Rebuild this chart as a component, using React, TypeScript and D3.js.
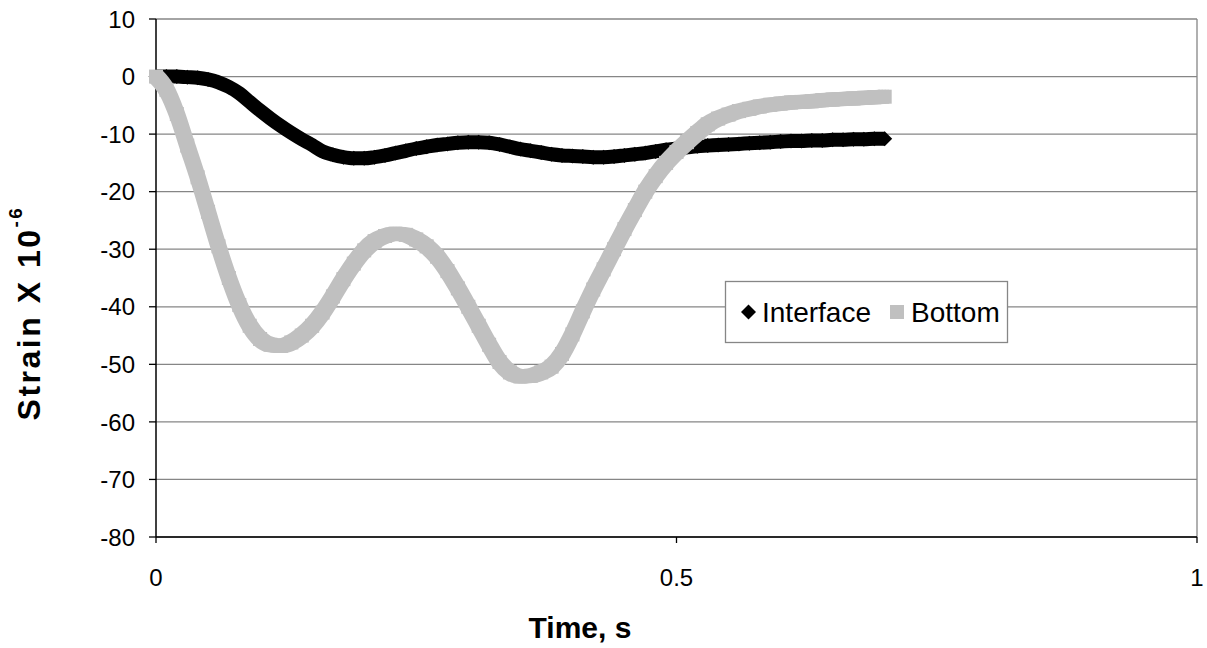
import React from "react";
import * as d3 from "d3";

const TIME_S = [
  0, 0.01, 0.02, 0.03, 0.04, 0.05, 0.06, 0.07, 0.08, 0.09,
  0.1, 0.11, 0.12, 0.13, 0.14, 0.15, 0.16, 0.17, 0.18, 0.19,
  0.2, 0.21, 0.22, 0.23, 0.24, 0.25, 0.26, 0.27, 0.28, 0.29,
  0.3, 0.31, 0.32, 0.33, 0.34, 0.35, 0.36, 0.37, 0.38, 0.39,
  0.4, 0.41, 0.42, 0.43, 0.44, 0.45, 0.46, 0.47, 0.48, 0.49,
  0.5, 0.51, 0.52, 0.53, 0.54, 0.55, 0.56, 0.57, 0.58, 0.59,
  0.6, 0.61, 0.62, 0.63, 0.64, 0.65, 0.66, 0.67, 0.68, 0.69,
  0.7,
];

const INTERFACE = [
  0, 0, 0, -0.1, -0.2, -0.5, -1.0, -1.8, -2.9, -4.4,
  -5.9, -7.3, -8.6, -9.8, -10.9, -11.9, -13.0, -13.6, -14.0, -14.2,
  -14.2, -14.0, -13.7, -13.3, -12.9, -12.5, -12.2, -11.9, -11.7, -11.5,
  -11.4, -11.4, -11.5, -11.8, -12.2, -12.6, -12.9, -13.2, -13.5, -13.7,
  -13.8, -13.9, -14.0, -14.0, -13.9, -13.7, -13.5, -13.3, -13.0, -12.7,
  -12.5, -12.3, -12.1, -12.0, -11.9, -11.8, -11.7, -11.6, -11.5, -11.4,
  -11.3, -11.2, -11.2, -11.1, -11.1, -11.0, -11.0, -10.9, -10.9, -10.8,
  -10.8,
];

const BOTTOM = [
  0, -2.3, -6.5, -12.0, -17.5, -23.5, -29.5, -35.0, -39.7, -43.3,
  -45.6, -46.6, -46.8, -46.2, -45.0, -43.3, -41.0, -38.2, -35.2, -32.5,
  -30.2, -28.6, -27.7, -27.3, -27.5, -28.3, -29.5, -31.3, -33.8, -36.8,
  -40.0, -43.3, -46.6, -49.6, -51.4, -52.1, -52.0, -51.4, -50.4, -48.2,
  -44.8, -40.8, -37.0, -33.5, -30.0, -26.5, -23.2, -20.0, -17.3, -15.0,
  -13.1, -11.4, -9.8, -8.3, -7.3, -6.6, -6.0, -5.6, -5.2, -4.9,
  -4.7, -4.5, -4.4, -4.3, -4.1, -4.0, -3.9, -3.8, -3.7, -3.6,
  -3.5,
];

const Y_TICKS = [10, 0, -10, -20, -30, -40, -50, -60, -70, -80];
const X_TICKS = [0, 0.5, 1];
const X_TICK_LABELS = ["0", "0.5", "1"];
const SERIES_NAMES = ["Interface", "Bottom"];
const X_TITLE = "Time, s";
const Y_TITLE = "Strain X 10";
const Y_TITLE_SUP = "-6";

const W = 1207;
const H = 648;
const FONT = "Arial, 'Liberation Sans', Helvetica, sans-serif";
const GRAY = "#c0c0c0";
const GRID = "#868686";

export default function App() {
  const x = d3.scaleLinear().domain([0, 1]).range([156, 1197]);
  const y = d3.scaleLinear().domain([-80, 10]).range([537, 19]);

  const line = d3
    .line<number>()
    .x((_, i) => x(TIME_S[i]))
    .y((d) => y(d))
    .curve(d3.curveMonotoneX);

  const interfacePath = line(INTERFACE) || "";
  const bottomPath = line(BOTTOM) || "";

  const penOffsets = [-4.5, -1.5, 1.5, 4.5];
  const diamond = (cx: number, cy: number, r: number) =>
    `M${cx},${cy - r}L${cx + r},${cy}L${cx},${cy + r}L${cx - r},${cy}Z`;

  const [x0, x1] = x.range();
  const [yb, yt] = y.range();

  return (
    <svg
      width={W}
      height={H}
      viewBox={`0 0 ${W} ${H}`}
      style={{ position: "absolute", left: 0, top: 0, display: "block", background: "#fff" }}
      fontFamily={FONT}
    >
      <rect x={0} y={0} width={W} height={H} fill="#fff" />
      {Y_TICKS.map((t) => (
        <line key={"g" + t} x1={x0} x2={x1} y1={y(t)} y2={y(t)} stroke={GRID} strokeWidth={1.3} />
      ))}
      <line x1={x1} x2={x1} y1={yt} y2={yb} stroke={GRID} strokeWidth={1.3} />
      <line x1={x0} x2={x0} y1={yt} y2={yb} stroke="#000" strokeWidth={1.5} />
      <line x1={x0} x2={x1} y1={yb} y2={yb} stroke="#000" strokeWidth={1.5} />
      {Y_TICKS.map((t) => (
        <line key={"yt" + t} x1={x0 - 7} x2={x0} y1={y(t)} y2={y(t)} stroke="#000" strokeWidth={1.3} />
      ))}
      {X_TICKS.map((t) => (
        <line key={"xt" + t} x1={x(t)} x2={x(t)} y1={yb} y2={yb + 6} stroke="#000" strokeWidth={1.3} />
      ))}
      {Y_TICKS.map((t) => (
        <text key={"yl" + t} x={135} y={y(t)} dy="0.36em" textAnchor="end" fontSize={24} fill="#000">
          {t}
        </text>
      ))}
      {X_TICKS.map((t, i) => (
        <text key={"xl" + t} x={x(t)} y={586} textAnchor="middle" fontSize={24} fill="#000">
          {X_TICK_LABELS[i]}
        </text>
      ))}

      <path d={interfacePath} fill="none" stroke="#000" strokeWidth={14} strokeLinejoin="round" />
      {INTERFACE.map((v, i) => (
        <path key={"d" + i} d={diamond(x(TIME_S[i]), y(v), 7.5)} fill="#000" />
      ))}

      <g>
        {penOffsets.map((dx) =>
          penOffsets.map((dy) => (
            <path
              key={`p${dx}_${dy}`}
              d={bottomPath}
              transform={`translate(${dx},${dy})`}
              fill="none"
              stroke={GRAY}
              strokeWidth={5}
              strokeLinejoin="round"
            />
          ))
        )}
        {BOTTOM.map((v, i) => (
          <rect key={"s" + i} x={x(TIME_S[i]) - 7} y={y(v) - 7} width={14} height={14} fill={GRAY} />
        ))}
      </g>

      <rect x={725.5} y={281.5} width={282} height={61} fill="#fff" stroke={GRID} strokeWidth={1.3} />
      <path d={diamond(748.5, 312, 7.5)} fill="#000" />
      <text x={762} y={322} fontSize={28} fill="#000">
        {SERIES_NAMES[0]}
      </text>
      <rect x={890} y={305} width={14} height={14} fill={GRAY} />
      <text x={911} y={322} fontSize={28} fill="#000">
        {SERIES_NAMES[1]}
      </text>

      <text x={580} y={638} textAnchor="middle" fontSize={30} fontWeight="bold" fill="#000">
        {X_TITLE}
      </text>
      <text
        transform={`translate(40,${313}) rotate(-90)`}
        textAnchor="middle"
        fontSize={32}
        fontWeight="bold"
        letterSpacing={2.5}
        fill="#000"
      >
        {Y_TITLE}
        <tspan fontSize={19} dy="-0.95em">{Y_TITLE_SUP}</tspan>
      </text>
    </svg>
  );
}
